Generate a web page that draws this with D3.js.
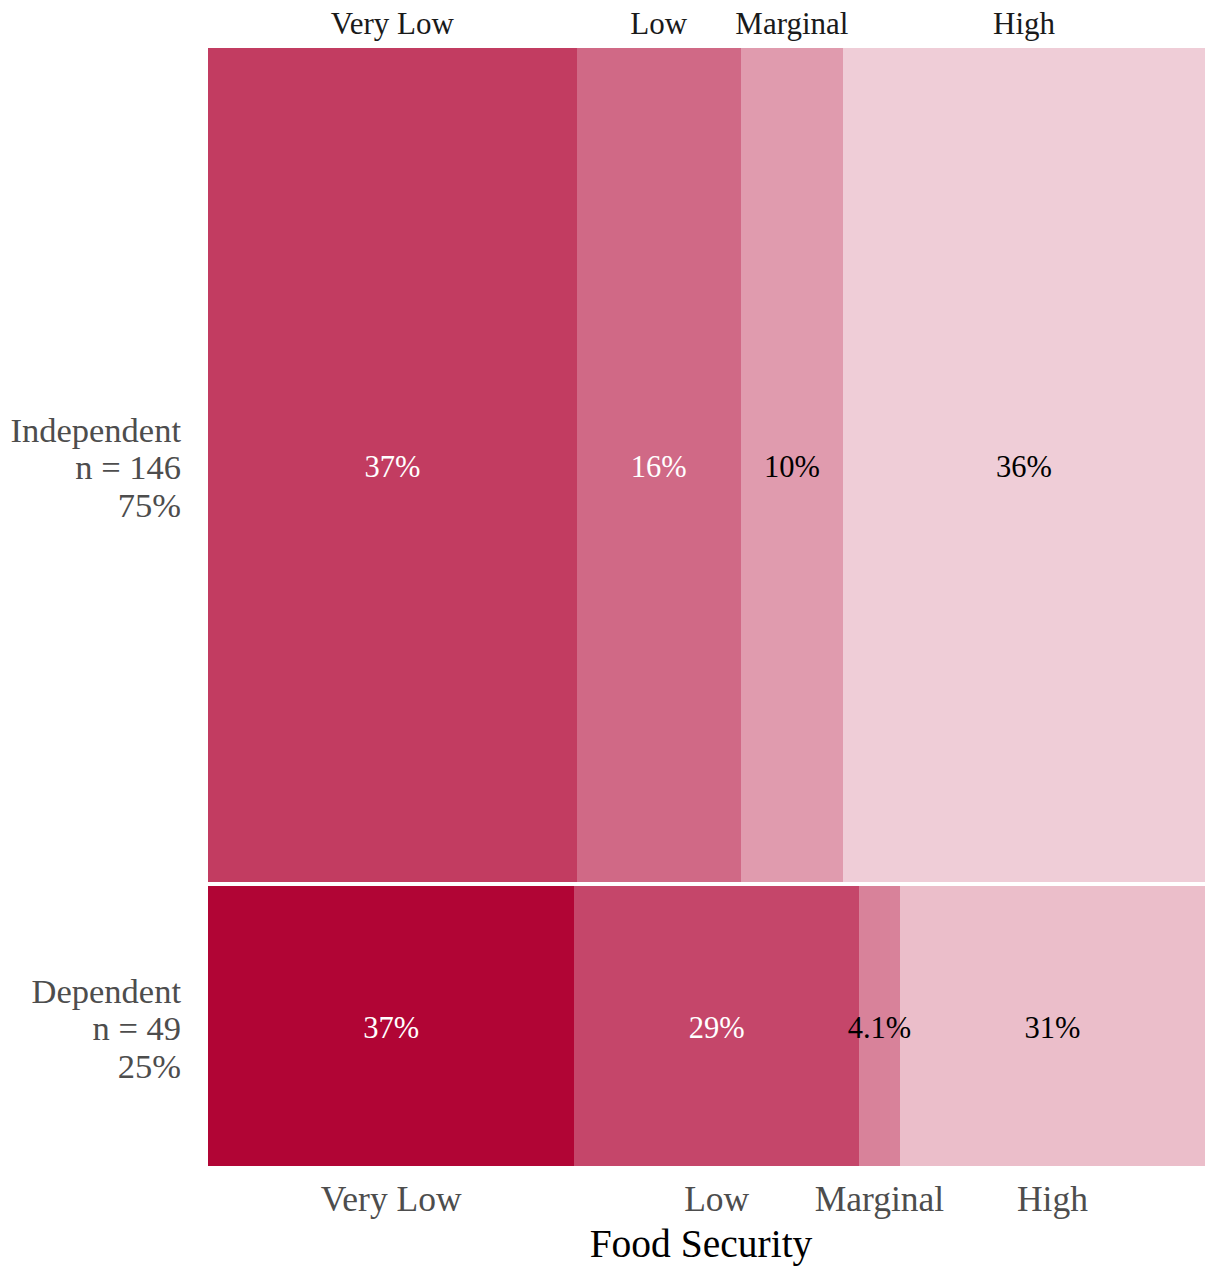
<!DOCTYPE html>
<html><head><meta charset="utf-8">
<script src="https://cdn.jsdelivr.net/npm/d3@7"></script>
<style>html,body{margin:0;padding:0;background:#fff}</style>
</head><body>
<svg id="chart" width="1206" height="1266"></svg>
<script>
const categories = ["Very Low", "Low", "Marginal", "High"];
const groups = ["Independent", "Dependent"];
const counts = {
  Independent: [54, 24, 15, 53],
  Dependent: [18, 14, 2, 15]
};
const percentLabels = {
  Independent: ["37%", "16%", "10%", "36%"],
  Dependent: ["37%", "29%", "4.1%", "31%"]
};
const groupShares = ["75%", "25%"];

// style
const baseColor = "#b10535";
const alphas = { Independent: [0.78, 0.6, 0.4, 0.2], Dependent: [1, 0.74, 0.5, 0.26] };
const textColors = ["#ffffff", "#ffffff", "#000000", "#000000"];
const font = "'Liberation Serif','Times New Roman',serif";

const svg = d3.select("#chart");
const L = 208, R = 1205, T = 48, B = 1166, gap = 4;

const totals = groups.map(g => d3.sum(counts[g]));
const grand = d3.sum(totals);
const y = d3.scaleLinear().domain([0, grand]).range([T, B - gap]);

function mix(alpha) {
  const c = d3.rgb(baseColor);
  return d3.rgb(255 - alpha * (255 - c.r), 255 - alpha * (255 - c.g), 255 - alpha * (255 - c.b)).formatHex();
}

let cum = 0;
groups.forEach((g, gi) => {
  const tot = totals[gi];
  const y0 = Math.round(y(cum) + gi * gap);
  const y1 = Math.round(y(cum + tot) + gi * gap);
  cum += tot;
  const x = d3.scaleLinear().domain([0, tot]).range([L, R]);
  let c = 0;
  const cells = counts[g].map((v, i) => { const o = { v, i, s: c }; c += v; return o; });
  const grp = svg.append("g");
  grp.selectAll("rect").data(cells).join("rect")
    .attr("x", d => Math.round(x(d.s))).attr("y", y0)
    .attr("width", d => Math.round(x(d.s + d.v)) - Math.round(x(d.s))).attr("height", y1 - y0)
    .attr("shape-rendering", "crispEdges")
    .attr("fill", d => mix(alphas[g][d.i]));
  const ym = (y0 + y1) / 2;
  grp.selectAll("text.pct").data(cells).join("text").attr("class", "pct")
    .attr("x", d => (x(d.s) + x(d.s + d.v)) / 2).attr("y", ym + 12)
    .attr("text-anchor", "middle").attr("font-family", font).attr("font-size", 30.5)
    .attr("fill", d => textColors[d.i]).text(d => percentLabels[g][d.i]);

  // row label
  const lab = svg.append("text").attr("text-anchor", "end").attr("font-family", font)
    .attr("font-size", 34.5).attr("fill", "#4d4d4d");
  [g, "n = " + tot, groupShares[gi]].forEach((t, k) => {
    lab.append("tspan").attr("x", 181).attr("y", ym + 14 + (k - 1) * 37.5).text(t);
  });

  // column labels
  if (gi === 0) {
    svg.append("g").selectAll("text").data(cells).join("text")
      .attr("x", d => (x(d.s) + x(d.s + d.v)) / 2).attr("y", 34)
      .attr("text-anchor", "middle").attr("font-family", font).attr("font-size", 31)
      .attr("fill", "#1a1a1a").text(d => categories[d.i]);
  } else {
    svg.append("g").selectAll("text").data(cells).join("text")
      .attr("x", d => (x(d.s) + x(d.s + d.v)) / 2).attr("y", 1211)
      .attr("text-anchor", "middle").attr("font-family", font).attr("font-size", 35.5)
      .attr("fill", "#4d4d4d").text(d => categories[d.i]);
  }
});

svg.append("text").attr("x", 701).attr("y", 1257).attr("text-anchor", "middle")
  .attr("font-family", font).attr("font-size", 39.5).attr("fill", "#000").text("Food Security");
</script>
</body></html>
